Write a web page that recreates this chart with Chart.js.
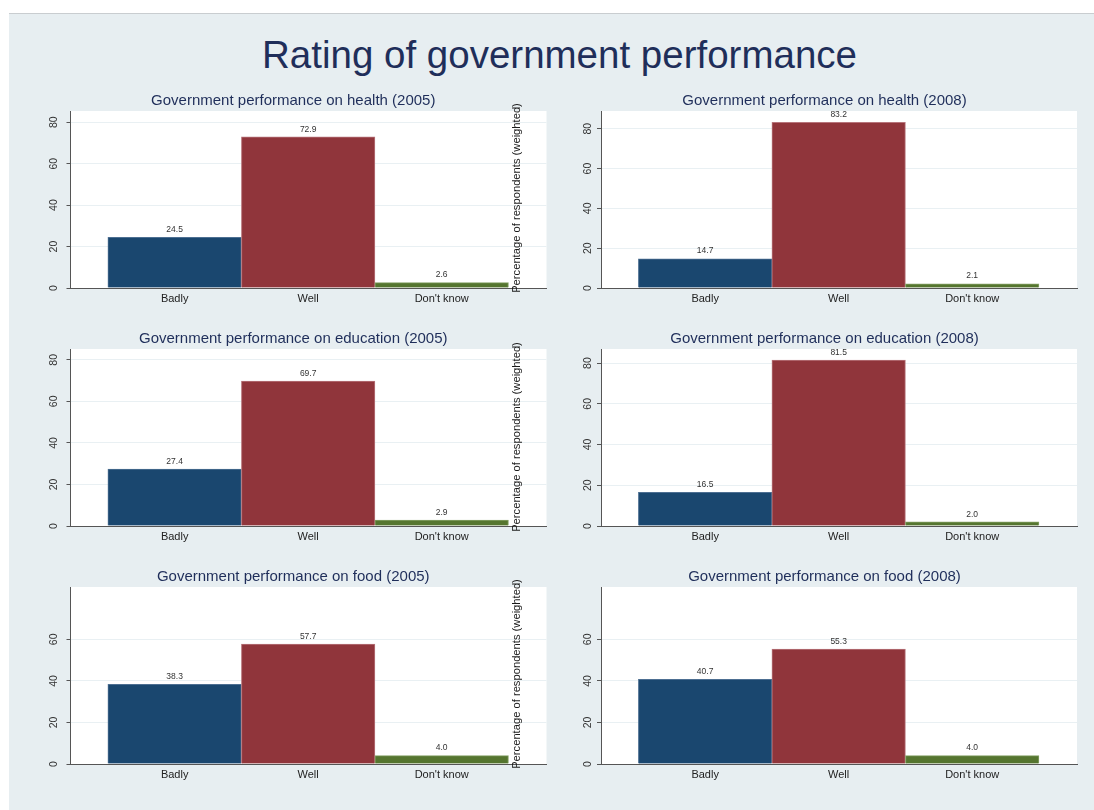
<!DOCTYPE html>
<html><head><meta charset="utf-8">
<script src="https://cdn.jsdelivr.net/npm/chart.js@4.4.1/dist/chart.umd.min.js"></script>
<style>
html,body{margin:0;padding:0;background:#fff;overflow:hidden}
#wrap{position:relative;width:1094px;height:810px;overflow:hidden;background:#fff;font-family:'Liberation Sans',Arial,sans-serif}
#bg{position:absolute;left:9px;top:13px;width:1100px;height:810px;background:#e7eef1;border-top:1px solid #c9cdd0}
#title{position:absolute;left:0;width:1119px;top:33px;line-height:44px;font-size:38.5px;text-align:center;color:#1f2e5a;white-space:nowrap}
.ytitle{position:absolute;left:516px;font-size:11.2px;line-height:13px;color:#1a1a1a;white-space:nowrap;transform:translate(-50%,-50%) rotate(-90deg)}
canvas{position:absolute}
</style></head>
<body><div id="wrap"><div id="bg"></div><div id="title"></div></div>
<script>
const mainTitle = 'Rating of government performance';
const yAxisTitle = 'Percentage of respondents (weighted)';
const categories = ['Badly', 'Well', "Don't know"];
const panelTitles = [
  'Government performance on health (2005)',
  'Government performance on health (2008)',
  'Government performance on education (2005)',
  'Government performance on education (2008)',
  'Government performance on food (2005)',
  'Government performance on food (2008)'
];
const health2005 = [24.5, 72.9, 2.6];
const health2008 = [14.7, 83.2, 2.1];
const education2005 = [27.4, 69.7, 2.9];
const education2008 = [16.5, 81.5, 2.0];
const food2005 = [38.3, 57.7, 4.0];
const food2008 = [40.7, 55.3, 4.0];
const panelValues = [health2005, health2008, education2005, education2008, food2005, food2008];
const yAxisMax = [85.4, 88.9, 85.2, 86.9, 85.2, 85.2];
const yTicksUpper = [0, 20, 40, 60, 80];
const yTicksFood = [0, 20, 40, 60];
const panelTicks = [yTicksUpper, yTicksUpper, yTicksUpper, yTicksUpper, yTicksFood, yTicksFood];

const barColors = ['#1a476f', '#90353b', '#55752f'];
const barBorders = ['#4d6f92', '#b7757b', '#84a064'];
const FONT = "'Liberation Sans', Arial, sans-serif";

const wrap = document.getElementById('wrap');
document.getElementById('title').textContent = mainTitle;

const plotBg = {
  id: 'plotBg',
  beforeDraw(chart) {
    const {ctx, chartArea: a} = chart;
    ctx.save();
    ctx.fillStyle = '#ffffff';
    ctx.fillRect(a.left, a.top, a.right - a.left, a.bottom - a.top);
    ctx.restore();
  }
};
const valueLabels = {
  id: 'valueLabels',
  afterDatasetsDraw(chart) {
    const ctx = chart.ctx;
    const meta = chart.getDatasetMeta(0);
    ctx.save();
    ctx.font = '8.5px ' + FONT;
    ctx.fillStyle = '#333333';
    ctx.textAlign = 'center';
    ctx.textBaseline = 'middle';
    meta.data.forEach((el, i) => {
      const v = chart.data.datasets[0].data[i].y;
      ctx.fillText(v.toFixed(1), el.x, el.y - 7.7);
    });
    ctx.restore();
  }
};

const rowTops = [85, 323, 561];
const colGeom = [
  {left: 40, width: 544, yw: 30.5, padR: 37.5, tickPad: 6.2},
  {left: 572, width: 540, yw: 29, padR: 35, tickPad: 2.7}
];

panelValues.forEach((vals, i) => {
  const col = i % 2, row = Math.floor(i / 2);
  const g = colGeom[col];
  const cv = document.createElement('canvas');
  cv.width = g.width; cv.height = 233;
  cv.style.left = g.left + 'px';
  cv.style.top = rowTops[row] + 'px';
  cv.style.width = g.width + 'px'; cv.style.height = '233px';
  wrap.appendChild(cv);
  const ticks = panelTicks[i];
  new Chart(cv.getContext('2d'), {
    type: 'bar',
    data: {
      datasets: [{
        data: vals.map((v, k) => ({x: k, y: v})),
        backgroundColor: barColors,
        borderColor: barBorders,
        borderWidth: 1,
        barPercentage: 1,
        categoryPercentage: 1
      }]
    },
    options: {
      responsive: false,
      animation: false,
      devicePixelRatio: 1,
      layout: {padding: {left: 0, right: g.padR, top: 0, bottom: 0}},
      plugins: {
        legend: {display: false},
        tooltip: {enabled: false},
        title: {
          display: true, text: panelTitles[i], color: '#1f2e5a',
          font: {size: 15, family: FONT, weight: 'normal'},
          padding: {top: 6.5, bottom: 1.5}
        }
      },
      scales: {
        x: {
          type: 'linear', min: -0.78, max: 2.785, offset: false,
          afterBuildTicks: s => { s.ticks = [0, 1, 2].map(v => ({value: v})); },
          afterFit: s => { s.height = 30; },
          grid: {display: false, drawTicks: false, offset: false},
          border: {display: true, color: '#555555', width: 1},
          ticks: {
            callback: v => categories[v] ?? '',
            color: '#222222', font: {size: 11, family: FONT}, padding: 4.5,
            maxRotation: 0, minRotation: 0
          }
        },
        y: {
          type: 'linear', min: 0, max: yAxisMax[i],
          afterBuildTicks: s => { s.ticks = ticks.map(v => ({value: v})); },
          afterFit: s => { s.width = g.yw; },
          grid: {color: '#e9f0f3', lineWidth: 1, drawTicks: true, tickLength: 4, tickColor: '#555555'},
          border: {display: true, color: '#555555', width: 1},
          ticks: {
            color: '#333333', font: {size: 10.5, family: FONT},
            minRotation: 90, maxRotation: 90, crossAlign: 'center', padding: g.tickPad
          }
        }
      }
    },
    plugins: [plotBg, valueLabels]
  });
});

[198.4, 436.7, 674.3].forEach(yc => {
  const d = document.createElement('div');
  d.className = 'ytitle';
  d.style.top = yc + 'px';
  d.textContent = yAxisTitle;
  wrap.appendChild(d);
});
</script>
</body></html>
